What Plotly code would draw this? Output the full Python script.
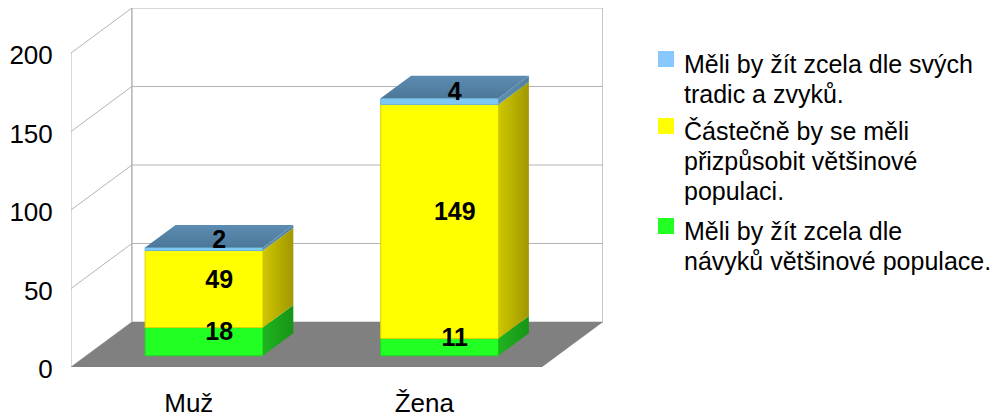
import plotly.graph_objects as go

# ---- data ----
categories = ["Muž", "Žena"]
green_values = [18, 11]
yellow_values = [49, 149]
blue_values = [2, 4]
y_ticks = [0, 50, 100, 150, 200]
legend_lines = [
    ["Měli by žít zcela dle svých", "tradic a zvyků."],
    ["Částečně by se měli", "přizpůsobit většinové", "populaci."],
    ["Měli by žít zcela dle", "návyků většinové populace."],
]

# ---- oblique projection (axis units) ----
W, H = 994, 417
ML, MR, MT, MB = 71, 391, 8, 50
DX = 61 / 236        # depth shift in category units
DY = 45 / 1.57       # depth shift in value units
N = len(categories)
BAR_W = 0.5
LABEL_DROP = 2.4     # data labels sit slightly below the geometric centre (value units)
FONT = "Liberation Sans"
GRID = "#b4b4b4"

PW, PH = W - ML - MR, H - MT - MB


def px(x):
    return (x - ML) / PW


def py(y):
    return 1 - (y - MT) / PH


def proj(x, v, d):
    return x + d * DX, v + d * DY


def poly(points, color=None, line=None, grad=None):
    xs = [p[0] for p in points] + [points[0][0]]
    ys = [p[1] for p in points] + [points[0][1]]
    kw = dict(x=xs, y=ys, mode="lines", fill="toself", hoverinfo="skip",
              showlegend=False, cliponaxis=False,
              line=dict(color=line or "rgba(0,0,0,0)", width=1))
    if grad:
        kw["fillgradient"] = dict(type=grad[0], colorscale=[[0, grad[1]], [1, grad[2]]])
    else:
        kw["fillcolor"] = color
    return go.Scatter(**kw)


def seg(xs, ys, width=1.0):
    return go.Scatter(x=xs, y=ys, mode="lines", hoverinfo="skip", showlegend=False,
                      cliponaxis=False, line=dict(color=GRID, width=width))


fig = go.Figure()

# walls and grid
for v in y_ticks:
    p0, p1 = proj(0, v, 0), proj(0, v, 1)
    fig.add_trace(seg([p0[0], p1[0], proj(N, v, 1)[0]], [p0[1], p1[1], proj(N, v, 1)[1]]))
top = y_ticks[-1]
fig.add_trace(seg([0, 0], [0, top]))
fig.add_trace(seg([proj(0, 0, 1)[0]] * 2, [proj(0, 0, 1)[1], proj(0, top, 1)[1]], 1.5))
fig.add_trace(seg([proj(N, 0, 1)[0]] * 2, [proj(N, 0, 1)[1], proj(N, top, 1)[1]], 1.5))

# floor
fig.add_trace(poly([proj(0, 0, 0), proj(N, 0, 0), proj(N, 0, 1), proj(0, 0, 1)], "#808080"))

styles = [
    dict(values=green_values, front="#22ff22", edge="#1fd81f", side=("#1fb41f", "#179417")),
    dict(values=yellow_values, front="#ffff00", edge="#dcd400", side=("#cfc600", "#a09800")),
    dict(values=blue_values, front="#80c8f4", edge="#6cb4e0", side=("#5f8fb2", "#527fa2")),
]

labels_x, labels_y, labels_t = [], [], []
for i in range(N):
    x0 = i + (1 - BAR_W) / 2
    x1 = x0 + BAR_W
    base = 0
    for k, st in enumerate(styles):
        val = st["values"][i]
        t = base + val
        a, b = 0.25, 0.75
        fig.add_trace(poly([proj(x0, base, a), proj(x1, base, a), proj(x1, t, a), proj(x0, t, a)],
                           st["front"], st["edge"]))
        fig.add_trace(poly([proj(x1, base, a), proj(x1, base, b), proj(x1, t, b), proj(x1, t, a)],
                           grad=("horizontal", st["side"][0], st["side"][1])))
        if k == len(styles) - 1:
            fig.add_trace(poly([proj(x0, t, a), proj(x1, t, a), proj(x1, t, b), proj(x0, t, b)],
                               grad=("vertical", "#4c7898", "#5c8cb2")))
        lx, ly = proj((x0 + x1) / 2, base + val / 2 - LABEL_DROP, 0.5)
        labels_x.append(lx)
        labels_y.append(ly)
        labels_t.append(str(val))
        base = t

fig.add_trace(go.Scatter(x=labels_x, y=labels_y, text=labels_t, mode="text",
                         textposition="middle center", hoverinfo="skip", showlegend=False,
                         cliponaxis=False,
                         textfont=dict(family=FONT, size=25, color="black", weight="bold")))

# hand-placed legend (symbol beside the first line of each wrapped entry)
legend_colors = ["#88c8ff", "#ffff00", "#22ff22"]
legend_first_y = [64, 131, 231]
LINE = 30
shapes, annotations = [], []
for col, y0, lines in zip(legend_colors, legend_first_y, legend_lines):
    shapes.append(dict(type="rect", xref="paper", yref="paper", line_width=0, fillcolor=col,
                       x0=px(658), x1=px(674), y0=py(y0 + 3), y1=py(y0 - 13)))
    for j, line in enumerate(lines):
        annotations.append(dict(text=line, xref="paper", yref="paper", x=px(683),
                                y=py(y0 + j * LINE), xanchor="left", yanchor="middle",
                                showarrow=False, borderpad=0,
                                font=dict(family=FONT, size=25, color="black")))

fig.update_layout(
    width=W, height=H, autosize=False,
    margin=dict(l=ML, r=MR, t=MT, b=MB),
    paper_bgcolor="white", plot_bgcolor="white",
    showlegend=False, shapes=shapes, annotations=annotations,
    font=dict(family=FONT, size=26, color="black"),
    xaxis=dict(range=[0, N + DX], tickmode="array", automargin=False,
               tickvals=[i + 0.5 for i in range(N)], ticktext=categories,
               showgrid=False, zeroline=False, showline=False, ticks="outside",
               ticklen=13, tickcolor="rgba(0,0,0,0)", fixedrange=True,
               tickfont=dict(family=FONT, size=26, color="black")),
    yaxis=dict(range=[0, top + DY], tickmode="array", tickvals=y_ticks, automargin=False,
               showgrid=False, zeroline=False, showline=False, ticks="outside",
               ticklen=12, tickcolor="rgba(0,0,0,0)", fixedrange=True, ticklabelshift=2,
               tickfont=dict(family=FONT, size=26, color="black")),
)

fig.write_html("out.html", config={"displayModeBar": False},
               post_script="document.body.style.margin='0';document.documentElement.style.overflow='hidden';")
